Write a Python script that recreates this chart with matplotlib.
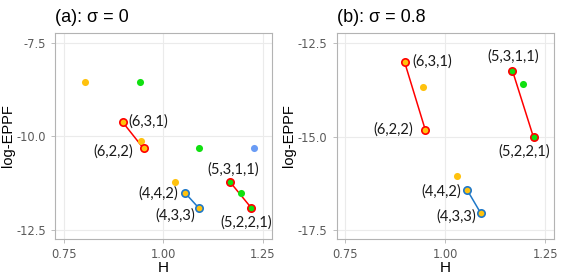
import matplotlib.pyplot as plt

# partitions of n = 10, their entropy H and log-EPPF under the two sigma values
partitions = ["(7,2,1)", "(7,1,1,1)", "(6,3,1)", "(5,4,1)", "(6,2,2)", "(6,2,1,1)",
              "(6,1,1,1,1)", "(5,3,2)", "(5,3,1,1)", "(4,4,2)", "(4,4,1,1)", "(4,3,3)", "(5,2,2,1)"]
H = [0.802, 0.940, 0.898, 0.943, 0.950, 1.089, 1.228, 1.030, 1.168, 1.055, 1.194, 1.089, 1.221]
eppf_s0 = [-8.53, -8.53, -9.62, -10.12, -10.32, -10.32, -10.32, -11.23, -11.23, -11.52, -11.52, -11.92, -11.92]
eppf_s08 = [None, None, -13.00, -13.67, -14.82, None, None, -16.06, -13.23, -16.43, -13.60, -17.05, -15.02]

# highlighted pairs, joined by a segment
pairs_red = [("(6,3,1)", "(6,2,2)"), ("(5,3,1,1)", "(5,2,2,1)")]
pairs_blue = [("(4,4,2)", "(4,3,3)")]

group_colors = {3: "#FFC20E", 4: "#10E010", 5: "#6A9CF5"}

# label offsets in pixels (dx, dy, ha)
label_pos_a = {"(6,3,1)": (6, 1, "left"), "(6,2,2)": (-10, -3, "right"),
               "(5,3,1,1)": (3, 13, "center"), "(5,2,2,1)": (-5, -14, "center"),
               "(4,4,2)": (-7, 0, "right"), "(4,3,3)": (-4, -7, "right")}
label_pos_b = {"(6,3,1)": (8, 0, "left"), "(6,2,2)": (-12, 0, "right"),
               "(5,3,1,1)": (1, 14, "center"), "(5,2,2,1)": (-9, -14, "center"),
               "(4,4,2)": (-6, -1, "right"), "(4,3,3)": (-5, -3, "right")}


def n_groups(p):
	return p.count(",") + 1


def draw_panel(ax, eppf, labels, title, yticks):
	idx = {p: i for i, p in enumerate(partitions)}
	highlighted = {p: "red" for pr in pairs_red for p in pr}
	highlighted.update({p: "#1F78C8" for pr in pairs_blue for p in pr})

	for pairs, col in [(pairs_red, "#FF0000"), (pairs_blue, "#1F78C8")]:
		for a, b in pairs:
			ax.plot([H[idx[a]], H[idx[b]]], [eppf[idx[a]], eppf[idx[b]]], color=col, lw=1.1, zorder=2)

	for i, p in enumerate(partitions):
		if eppf[i] is None:
			continue
		fc = group_colors[n_groups(p)]
		if p in highlighted:
			ax.scatter(H[i], eppf[i], s=28, color=fc, edgecolors=highlighted[p], linewidths=1.2, zorder=3)
			dx, dy, ha = labels[p]
			ax.annotate(p, (H[i], eppf[i]), xytext=(dx, dy), textcoords="offset pixels",
				ha=ha, va="center", fontsize=10.5, family="Lato", color="#1A1A1A")
		else:
			ax.scatter(H[i], eppf[i], s=26, color=fc, linewidths=0, zorder=3)

	ax.set_xlim(0.728, 1.2725)
	ax.set_xticks([0.75, 1.00, 1.25])
	ax.set_xticklabels(["0.75", "1.00", "1.25"])
	ax.set_yticks(yticks)
	ax.set_yticklabels(["%.1f" % t for t in yticks])
	ax.grid(True, color="#EBEBEB", lw=0.8)
	ax.set_axisbelow(True)
	for s in ax.spines.values():
		s.set_color("#B3B3B3")
		s.set_linewidth(0.8)
	ax.tick_params(colors="#B3B3B3", labelcolor="#5A5A5A", labelsize=8.3, length=3, width=0.6)
	ax.set_xlabel("H", fontsize=11, family="Liberation Sans", labelpad=0)
	ax.set_ylabel("log-EPPF", fontsize=10.5, family="Liberation Sans", labelpad=1)
	ax.set_title(title, loc="left", fontsize=13, family="Liberation Sans", pad=8)


fig = plt.figure(figsize=(5.62, 2.76), dpi=100)
ax1 = fig.add_axes([0.098, 0.135, 0.386, 0.745])
ax2 = fig.add_axes([0.599, 0.135, 0.387, 0.745])

draw_panel(ax1, eppf_s0, label_pos_a, "(a): σ = 0", [-7.5, -10.0, -12.5])
ax1.set_ylim(-12.74, -7.23)
draw_panel(ax2, eppf_s08, label_pos_b, "(b): σ = 0.8", [-12.5, -15.0, -17.5])
ax2.set_ylim(-17.73, -12.23)

fig.savefig("out.png", dpi=100)
